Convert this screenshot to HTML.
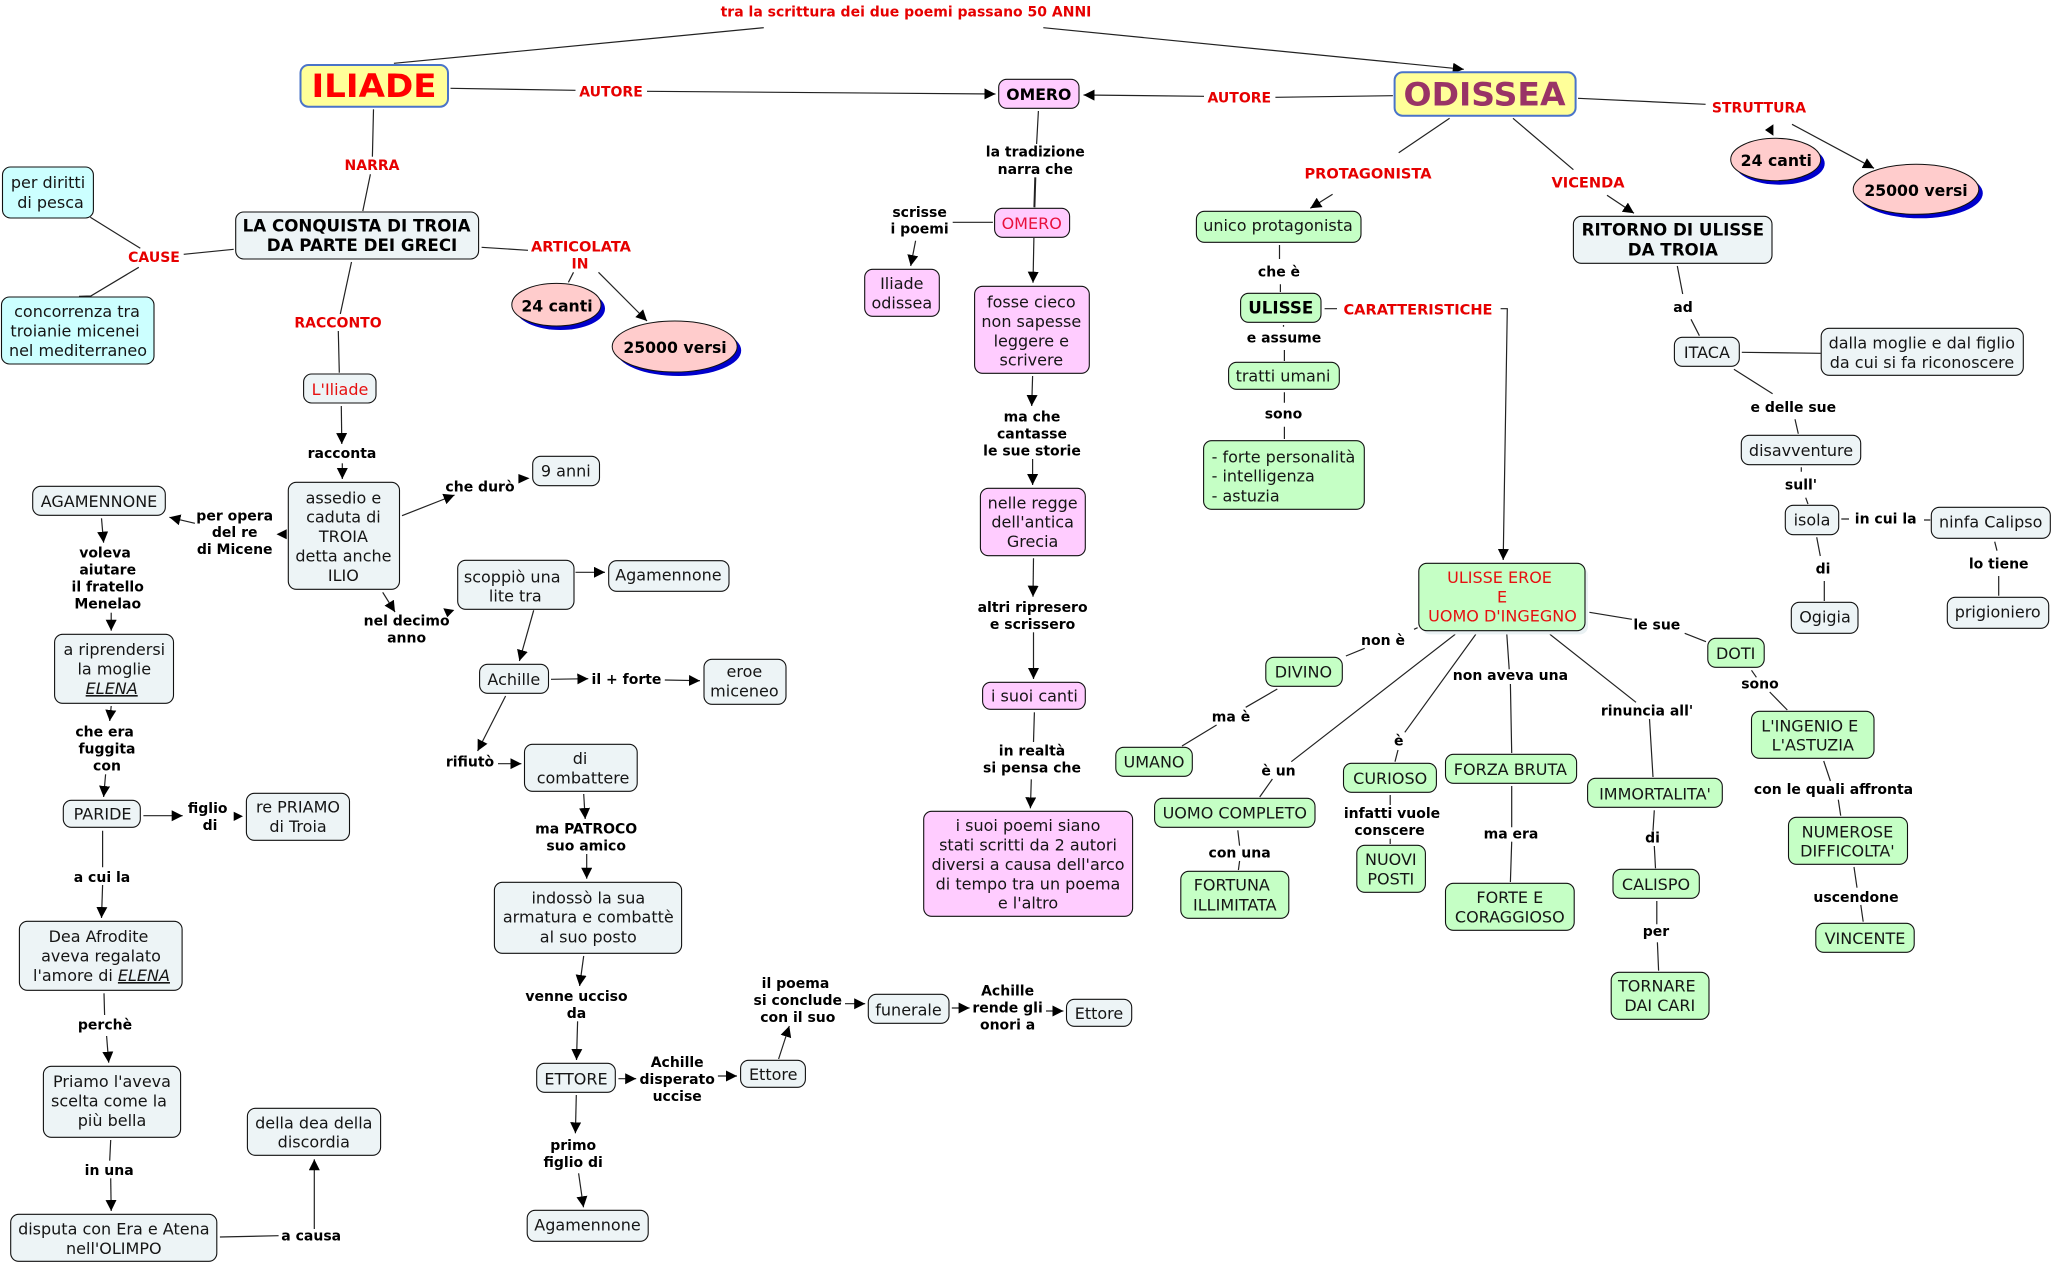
<!DOCTYPE html>
<html lang="it"><head><meta charset="utf-8"><title>Iliade e Odissea</title>
<style>
html,body{margin:0;padding:0;background:#fff}
svg{display:block;font-family:"DejaVu Sans","Liberation Sans",sans-serif}
text{text-anchor:middle;font-size:16px;fill:#151515}
.b{font-weight:700;font-size:14px;fill:#000}
.r{font-weight:700;font-size:14px;fill:#e60000}
.w{font-size:14.6px}
.h{font-weight:700;font-size:16.7px;fill:#000}
.t{fill:#e61010}
.l{text-anchor:start}
rect{stroke:#111;stroke-width:1.1}
.n rect,rect.n{fill:#edf4f6}.p rect{fill:#ffccff}.g rect{fill:#c5ffc5}.c rect{fill:#ccffff}
.e path{fill:none;stroke:#222;stroke-width:1.2}
.i{font-style:italic;text-decoration:underline}
</style></head><body>
<svg width="2052" height="1264" viewBox="0 0 2052 1264" xmlns="http://www.w3.org/2000/svg">
<defs><marker id="a" markerUnits="userSpaceOnUse" markerWidth="12" markerHeight="12" refX="11" refY="5.5" orient="auto"><path d="M0,0L11,5.5L0,11z" fill="#000"/></marker></defs>

<g class="e">
<path d="M763.8,27.7L393.9,63.3M450.5,88.3L575.5,90.3M373.5,109.3L372.4,156.7M370.4,174.3L362.8,211M233.7,249.3L183.7,254.3M140.3,248.3L90.3,217.3M138.8,267.3L90.8,296L79,296.3M481.6,247.3L528,250.3M573.5,272.3L568.4,282.3M351.5,262L340.3,314M338.3,331L339.3,372.7"/>
<path d="M1392.9,95.7L1275.4,97.3M1038.4,111L1036.6,144M992.9,222.3L952.7,222.3M1449.6,118.3L1398.7,152.7M1279.5,245L1279.5,259M1280.4,284.3L1280.4,292M1324.6,308.7L1337,308.7M1283.5,325L1283.5,326.7M1284.4,350L1284.4,361M1284.4,392.3L1284.4,402.7M1284.4,426.7L1284.4,439"/>
<path style="stroke-width:2" d="M1035.3,177.3L1034.4,207.3"/>
<path d="M1578,98.3L1705.6,104.3M1513,118.3L1573.4,169.7M1677.3,266L1682.7,294M1691,319.3L1699.4,335.7M1741.8,352.3L1820.8,353.3M1733.9,369.3L1772.6,393.7M1795,419.3L1798.3,433.7M1801.3,467.3L1801.3,471.7M1805.7,497.7L1808,504M1841.3,519L1849,519M1924,520L1930.3,520M1994.7,541.7L1997,550.7M1998.7,576L1998.7,595.7M1816.7,537.3L1820.3,556M1824.3,581L1824.3,601"/>
<path d="M102.6,830.7L102.6,867.3M104,993.3L104.6,1015M110.7,1140L109.7,1160.7M219.9,1237L278.6,1235.7"/>
<path d="M1034.4,712.3L1033.5,742"/>
<path d="M1417.6,627.7L1414,629.3M1364.7,648.3L1345.9,656M1277.3,689L1245.7,707.3M1216.6,725L1182,746M1455.2,634.3L1291.3,761.7M1272.4,779L1259.7,797M1237.8,830.3L1239.6,845.7M1239.6,861L1238.4,870M1475.8,634.3L1404.8,732.3M1398,750L1395,761.7M1390.2,795L1390.2,805M1390.2,838.7L1390.2,844M1506.8,634.3L1509.2,669.3M1510.4,684L1511.7,753M1511.7,786L1511.7,827.3M1511.7,841.7L1510.4,882M1549.9,634.3L1636,702.3M1649.5,719L1653,777M1654.3,810.3L1653,830.7M1654.3,846L1655.5,868.3M1656.8,901L1656.8,924.3M1657.4,942.3L1658.6,970.7M1589.4,612.3L1631.9,619.3M1684.7,633.3L1706,641.7M1751.5,670.3L1756.4,677.3M1769.7,692L1787.3,710M1823.7,761L1830.4,781M1838.3,799.7L1840.7,815.7M1854,867L1857,887.7M1860.8,905L1863.2,921.7"/>
</g>
<g class="e" marker-end="url(#a)">
<path d="M1043.3,27.7L1463.8,69.3"/><path d="M647,91.3L995.5,94"/><path d="M1204,96.3L1083.5,95"/>
<path d="M598.5,272.3L647,321"/><path d="M341.3,406L341.8,444"/>
<path d="M915.6,240.7L910.7,266"/><path d="M1033.9,238L1033,282.7"/><path d="M1032.6,376L1031.7,406"/>
<path d="M1332.6,194.3L1310.3,208.3"/><path d="M1500.6,308.7L1507.3,308.7L1503.2,560"/>
<path d="M1792,124.3L1874,168.3"/><path d="M1607,195.3L1634,213.3"/>
<path d="M342.3,463.3L342.3,479"/><path d="M402,515.7L454.6,495"/><path d="M194.9,523.3L169.4,517.3"/>
<path d="M101.5,518.3L103.6,542.7"/><path d="M111.2,612.7L111.2,630.7"/><path d="M111.2,706L109.7,721"/>
<path d="M105.6,774.3L103.6,797"/><path d="M143.4,815.7L182.7,815.7"/><path d="M575.5,572.3L605,572.3"/>
<path d="M382.7,592.3L395,612"/><path d="M533.7,610.3L519.4,661"/><path d="M551,679.3L588.3,678.7"/>
<path d="M664.8,680L700,680.7"/><path d="M505.6,696L477.6,751"/><path d="M498,763.7L521.4,763.7"/>
<path d="M583.7,794L585.2,819"/><path d="M586.7,854L586.7,878.7"/><path d="M583.7,956L579.6,986"/>
<path d="M577.6,1021.3L576.5,1060"/><path d="M618.4,1078.7L636.2,1078.7"/><path d="M717.9,1076L737,1076"/>
<path d="M778.6,1059L789.3,1026"/><path d="M845,1003.7L865.2,1003.7"/><path d="M951.8,1008L969.6,1008"/>
<path d="M1046,1011L1063.4,1011"/><path d="M576.3,1095L575.4,1133.3"/><path d="M578.6,1173.3L583.5,1207.3"/>
<path d="M102.6,885L101.5,918"/><path d="M106.6,1036L108.7,1062.7"/><path d="M110.7,1178.3L111.2,1211"/>
<path d="M314.3,1229L314.3,1159.3"/><path d="M1032.6,459L1032.6,485"/><path d="M1033.5,558.3L1033,596.7"/>
<path d="M1033.5,632.3L1033.5,679"/><path d="M1031.3,779.3L1030.4,808.3"/>
</g>
<path d="M1773.4,124.3L1773.4,135.7L1765,130zM286.7,529.3L286.7,539.3L276.5,534.3zM518.4,474L518.4,483.5L529.6,478.3zM233.7,811.7L233.7,821L243,816.3zM443.3,608.3L454.3,610L447.3,617.3z" fill="#000"/>

<!-- main titles -->
<rect x="300.5" y="65" width="147.5" height="41.7" rx="8" fill="#ffff99" style="stroke:#4a74c9;stroke-width:2"/>
<rect x="1394.6" y="72.3" width="181" height="43.4" rx="8" fill="#ffff99" style="stroke:#4a74c9;stroke-width:2"/>
<text x="374" y="97" font-weight="700" textLength="125" lengthAdjust="spacingAndGlyphs" style="font-size:32px;fill:#f00">ILIADE</text>
<text x="1484.5" y="105.6" font-weight="700" textLength="162" lengthAdjust="spacingAndGlyphs" style="font-size:32px;fill:#993366">ODISSEA</text>

<!-- ellipses -->
<ellipse cx="560.4" cy="308.7" rx="44.6" ry="21.3" fill="#0000cc"/><ellipse cx="556.4" cy="304.7" rx="44.6" ry="21.3" fill="#ffcccc" stroke="#111"/>
<ellipse cx="678.7" cy="350.5" rx="62.5" ry="25.5" fill="#0000cc"/><ellipse cx="674.7" cy="346.5" rx="62.5" ry="25.5" fill="#ffcccc" stroke="#111"/>
<ellipse cx="1779.7" cy="163.5" rx="45" ry="21.2" fill="#0000cc"/><ellipse cx="1775.7" cy="159.5" rx="45" ry="21.2" fill="#ffcccc" stroke="#111"/>
<ellipse cx="1920" cy="193.3" rx="62.8" ry="25" fill="#0000cc"/><ellipse cx="1916" cy="189.3" rx="62.8" ry="25" fill="#ffcccc" stroke="#111"/>
<text class="h" style="font-size:15.7px" x="557" y="311.7">24 canti</text><text class="h" style="font-size:15.7px" x="675" y="353">25000 versi</text><text class="h" style="font-size:15.7px" x="1776.3" y="166">24 canti</text><text class="h" style="font-size:15.7px" x="1916" y="196">25000 versi</text>

<!-- cyan -->
<g class="c">
<rect x="2.5" y="167" width="90.9" height="51" rx="8"/><rect x="1.5" y="297" width="152.5" height="67" rx="8"/>
</g>
<text x="48" y="188">per diritti</text><text x="50.5" y="208">di pesca</text>
<text x="77" y="317">concorrenza tra</text><text x="75" y="336.5">troianie micenei</text><text x="78" y="356">nel mediterraneo</text>

<!-- blue-grey nodes -->
<g class="n">
<rect x="235.7" y="212" width="242.9" height="47" rx="8"/>
<rect x="303.6" y="374" width="72.4" height="29" rx="8"/>
<rect x="288.3" y="482.3" width="111.2" height="107" rx="8"/>
<rect x="532.7" y="456.3" width="66.8" height="29.4" rx="8"/>
<rect x="32.7" y="486.3" width="132.6" height="29" rx="8"/>
<rect x="54.6" y="634.3" width="118.9" height="69" rx="8"/>
<rect x="63.3" y="800.3" width="77" height="27" rx="8"/>
<rect x="246.4" y="793.3" width="103.1" height="47" rx="8"/>
<rect x="457.7" y="560.3" width="116.3" height="49" rx="8"/>
<rect x="608.7" y="560.7" width="120.3" height="30.6" rx="8"/>
<rect x="479.6" y="664.3" width="68.9" height="29" rx="8"/>
<rect x="704" y="659.3" width="82" height="45" rx="8"/>
<rect x="524.5" y="744.3" width="112.7" height="47" rx="8"/>
<rect x="494.4" y="882.3" width="187.2" height="71" rx="8"/>
<rect x="536.7" y="1063.3" width="78.6" height="29" rx="8"/>
<rect x="740.6" y="1060.3" width="64.8" height="27" rx="8"/>
<rect x="868.3" y="994.3" width="80.7" height="29" rx="8"/>
<rect x="1066.5" y="999.3" width="65.2" height="27" rx="8"/>
<rect x="527.2" y="1210.3" width="121" height="31" rx="8"/>
<rect x="19.4" y="921.3" width="162.7" height="69" rx="8"/>
<rect x="43.4" y="1066.3" width="137.2" height="71" rx="8"/>
<rect x="10.7" y="1214.3" width="206.1" height="47" rx="8"/>
<rect x="247.4" y="1108.3" width="133.2" height="47" rx="8"/>
<rect x="1573.4" y="216.3" width="198.6" height="47" rx="8"/>
<rect x="1674.4" y="337.3" width="64.9" height="29" rx="8"/>
<rect x="1821.2" y="328.3" width="202.1" height="47" rx="8"/>
<rect x="1741.3" y="435.3" width="119.4" height="29.4" rx="8"/>
<rect x="1785.3" y="505.3" width="53.4" height="29.4" rx="8"/>
<rect x="1931.3" y="507.3" width="119" height="31" rx="8"/>
<rect x="1947.3" y="597.3" width="101.4" height="31" rx="8"/>
<rect x="1791.3" y="602.3" width="66.7" height="31" rx="8"/>
</g>
<text class="h" x="356.6" y="231.7">LA CONQUISTA DI TROIA</text><text class="h" x="362" y="251">DA PARTE DEI GRECI</text>
<text class="t" x="340" y="395">L'Iliade</text>
<text x="343.4" y="503.3">assedio e</text><text x="343.4" y="522.7">caduta di</text><text x="343.4" y="542">TROIA</text><text x="343.4" y="561.7">detta anche</text><text x="343.4" y="581">ILIO</text>
<text x="565.8" y="476.7">9 anni</text><text x="99" y="507">AGAMENNONE</text>
<text x="114.3" y="655">a riprendersi</text><text x="114.3" y="674.3">la moglie</text><text class="i" x="111.7" y="694">ELENA</text>
<text x="102.6" y="819.7">PARIDE</text><text x="298" y="812.3">re PRIAMO</text><text x="298" y="832">di Troia</text>
<text x="512.2" y="582.3">scoppiò una</text><text x="515.3" y="601.7">lite tra</text><text x="668.4" y="580.7">Agamennone</text>
<text x="513.8" y="685">Achille</text><text x="744.4" y="677">eroe</text><text x="744.4" y="696.7">miceneo</text>
<text x="580" y="764">di</text><text x="583" y="783.7">combattere</text>
<text x="588.3" y="903.3">indossò la sua</text><text x="588.3" y="922.7">armatura e combattè</text><text x="588.3" y="942.3">al suo posto</text>
<text x="576" y="1084.3">ETTORE</text><text x="773.2" y="1080">Ettore</text><text x="908.5" y="1015.3">funerale</text><text x="1099" y="1019">Ettore</text><text x="587.5" y="1230.7">Agamennone</text>
<text x="98.5" y="942">Dea Afrodite</text><text x="101" y="961.7">aveva regalato</text><text x="101.5" y="981">l'amore di <tspan class="i">ELENA</tspan></text>
<text x="112" y="1087">Priamo l'aveva</text><text x="109" y="1106.7">scelta come la</text><text x="112" y="1126">più bella</text>
<text x="113.8" y="1234.7">disputa con Era e Atena</text><text x="113.8" y="1254">nell'OLIMPO</text>
<text x="313.8" y="1128.3">della dea della</text><text x="313.8" y="1147.7">discordia</text>
<text class="h" x="1672.8" y="235.7">RITORNO DI ULISSE</text><text class="h" x="1672.8" y="255.3">DA TROIA</text>
<text x="1706.9" y="358">ITACA</text><text x="1921.8" y="348.3">dalla moglie e dal figlio</text><text x="1922" y="368">da cui si fa riconoscere</text>
<text x="1801" y="456">disavventure</text><text x="1812" y="525.7">isola</text><text x="1990.7" y="527.3">ninfa Calipso</text><text x="1997.7" y="617.3">prigioniero</text><text x="1825" y="622.3">Ogigia</text>

<!-- pink -->
<g class="p">
<rect x="998.7" y="79.3" width="80.3" height="29" rx="8"/>
<rect x="994.6" y="208.3" width="75" height="29" rx="8"/>
<rect x="864.7" y="269.3" width="74.6" height="47" rx="8"/>
<rect x="974.6" y="286.3" width="114.7" height="87" rx="8"/>
<rect x="980.4" y="488.3" width="104.9" height="67.4" rx="8"/>
<rect x="982.6" y="682.3" width="102.7" height="27" rx="8"/>
<rect x="923.7" y="811.3" width="208.9" height="105" rx="8"/>
</g>
<text class="h" style="font-size:15.7px" x="1038.8" y="100">OMERO</text>
<text x="1031.7" y="229" style="fill:#e8103c">OMERO</text>
<text x="901.8" y="289">Iliade</text><text x="901.8" y="308.7">odissea</text>
<text x="1031.3" y="307.3">fosse cieco</text><text x="1031.3" y="327">non sapesse</text><text x="1031.3" y="346.3">leggere e</text><text x="1031.3" y="365.7">scrivere</text>
<text x="1032.6" y="508.3">nelle regge</text><text x="1032.6" y="527.7">dell'antica</text><text x="1032.6" y="547">Grecia</text>
<text x="1034.4" y="701.7">i suoi canti</text>
<text x="1028" y="831">i suoi poemi siano</text><text x="1028" y="850.3">stati scritti da 2 autori</text><text x="1028" y="870">diversi a causa dell'arco</text><text x="1028" y="889.3">di tempo tra un poema</text><text x="1028" y="908.7">e l'altro</text>

<!-- green -->
<rect x="1422" y="567" width="166" height="67.4" rx="8" fill="#e9f1f3" style="stroke:none"/>
<g class="g">
<rect x="1196.4" y="211.3" width="164.6" height="31" rx="8"/>
<rect x="1240.6" y="293.3" width="80.4" height="29" rx="8"/>
<rect x="1228.6" y="362.3" width="110.7" height="27" rx="8"/>
<rect x="1203.6" y="440.7" width="160.7" height="68.6" rx="8"/>
<rect x="1418.8" y="563.3" width="166.2" height="67.4" rx="8"/>
<rect x="1265.8" y="657.3" width="76.5" height="29" rx="8"/>
<rect x="1115.8" y="747.3" width="76.5" height="29" rx="8"/>
<rect x="1154.6" y="798.3" width="160.4" height="29" rx="8"/>
<rect x="1180.8" y="871.3" width="108" height="47" rx="8"/>
<rect x="1343.5" y="763.3" width="92.9" height="29" rx="8"/>
<rect x="1356.8" y="845.3" width="68.6" height="47" rx="8"/>
<rect x="1445.5" y="754.3" width="131.1" height="29" rx="8"/>
<rect x="1445.5" y="883.3" width="128.7" height="47" rx="8"/>
<rect x="1587.6" y="778.3" width="134.7" height="29" rx="8"/>
<rect x="1613" y="869.3" width="86.3" height="29" rx="8"/>
<rect x="1611.2" y="972.3" width="97.8" height="47" rx="8"/>
<rect x="1707.8" y="638.3" width="56.4" height="29" rx="8"/>
<rect x="1751.5" y="711.3" width="122.5" height="47" rx="8"/>
<rect x="1788.5" y="817.3" width="119" height="47" rx="8"/>
<rect x="1815.8" y="923.3" width="98.4" height="29" rx="8"/>
</g>
<text x="1278" y="231">unico protagonista</text>
<text class="h" x="1280.8" y="313.7">ULISSE</text>
<text x="1283" y="381.7">tratti umani</text>
<text class="l" x="1211.6" y="462.3">- forte personalità</text><text class="l" x="1211.6" y="481.7">- intelligenza</text><text class="l" x="1211.6" y="501.3">- astuzia</text>
<text class="t" x="1499.5" y="583">ULISSE EROE</text><text class="t" x="1502" y="602.3">E</text><text class="t" x="1502.5" y="621.7">UOMO D'INGEGNO</text>
<text x="1303.4" y="677.3">DIVINO</text><text x="1154" y="767.3">UMANO</text><text x="1234.8" y="818.3">UOMO COMPLETO</text>
<text x="1231.8" y="890.7">FORTUNA</text><text x="1234.8" y="910.3">ILLIMITATA</text>
<text x="1390.2" y="784">CURIOSO</text><text x="1390.8" y="865">NUOVI</text><text x="1390.8" y="884.3">POSTI</text>
<text x="1510.4" y="775">FORZA BRUTA</text><text x="1509.8" y="903">FORTE E</text><text x="1509.8" y="922.3">CORAGGIOSO</text>
<text x="1655" y="799.3">IMMORTALITA'</text><text x="1656" y="890">CALISPO</text><text x="1656.8" y="991.7">TORNARE</text><text x="1659.8" y="1011">DAI CARI</text>
<text x="1735.7" y="659">DOTI</text><text x="1809.8" y="731.3">L'INGENIO E</text><text x="1812.8" y="750.7">L'ASTUZIA</text>
<text x="1847.4" y="837.3">NUMEROSE</text><text x="1847.4" y="856.7">DIFFICOLTA'</text><text x="1865" y="944">VINCENTE</text>

<!-- red labels -->
<text class="r" x="906" y="16.7">tra la scrittura dei due poemi passano 50 ANNI</text>
<text class="r" x="611" y="96.3">AUTORE</text><text class="r" x="1239.3" y="102.3">AUTORE</text>
<text class="r" x="372" y="170">NARRA</text><text class="r" x="154" y="262">CAUSE</text>
<text class="r w" x="581" y="251.7">ARTICOLATA</text><text class="r" x="580" y="268.7">IN</text>
<text class="r" x="338" y="327.7">RACCONTO</text><text class="r w" x="1368" y="178.7">PROTAGONISTA</text>
<text class="r w" x="1418" y="314.7">CARATTERISTICHE</text><text class="r" x="1759" y="112.7">STRUTTURA</text><text class="r w" x="1588" y="187.7">VICENDA</text>

<!-- black labels -->
<text class="b" x="342" y="458">racconta</text>
<text class="b" x="1035.3" y="156.7">la tradizione</text><text class="b" x="1035.3" y="174">narra che</text>
<text class="b" x="919.6" y="217">scrisse</text><text class="b" x="919.6" y="233.7">i poemi</text>
<text class="b" x="1032" y="421.7">ma che</text><text class="b" x="1032" y="438.7">cantasse</text><text class="b" x="1032" y="455.7">le sue storie</text>
<text class="b" x="1279" y="276.7">che è</text><text class="b" x="1284" y="342.3">e assume</text><text class="b" x="1283.5" y="418.3">sono</text>
<text class="b" x="1683" y="312">ad</text><text class="b" x="1793.3" y="412">e delle sue</text><text class="b" x="1801" y="489.7">sull'</text>
<text class="b" x="1885.7" y="523.3">in cui la</text><text class="b" x="1998.7" y="568.3">lo tiene</text><text class="b" x="1823" y="573.7">di</text>
<text class="b" x="480" y="491.7">che durò</text>
<text class="b" x="234.7" y="520.3">per opera</text><text class="b" x="234.7" y="537">del re</text><text class="b" x="234.7" y="554">di Micene</text>
<text class="b" x="105" y="557.7">voleva</text><text class="b" x="107.7" y="574.7">aiutare</text><text class="b" x="107.7" y="591.7">il fratello</text><text class="b" x="107.7" y="608.7">Menelao</text>
<text class="b" x="104.6" y="736.7">che era</text><text class="b" x="107" y="753.7">fuggita</text><text class="b" x="107" y="770.7">con</text>
<text class="b" x="207.7" y="813">figlio</text><text class="b" x="210" y="830">di</text>
<text class="b" x="406.6" y="625.7">nel decimo</text><text class="b" x="406.6" y="642.7">anno</text>
<text class="b" x="626.5" y="684">il + forte</text><text class="b" x="470" y="766.7">rifiutò</text>
<text class="b" x="586.2" y="833.7">ma PATROCO</text><text class="b" x="586.2" y="850.7">suo amico</text>
<text class="b" x="576.5" y="1001">venne ucciso</text><text class="b" x="576.5" y="1018">da</text>
<text class="b" x="677.2" y="1067">Achille</text><text class="b" x="677.2" y="1084">disperato</text><text class="b" x="677.2" y="1101">uccise</text>
<text class="b" x="795.5" y="988">il poema</text><text class="b" x="797.8" y="1005">si conclude</text><text class="b" x="797.8" y="1022">con il suo</text>
<text class="b" x="1007.6" y="995.7">Achille</text><text class="b" x="1007.6" y="1012.7">rende gli</text><text class="b" x="1007.6" y="1029.7">onori a</text>
<text class="b" x="573.2" y="1150">primo</text><text class="b" x="573.2" y="1167">figlio di</text>
<text class="b" x="102" y="882">a cui la</text><text class="b" x="105" y="1029.7">perchè</text><text class="b" x="109.2" y="1175">in una</text><text class="b" x="311.2" y="1240.3">a causa</text>
<text class="b" x="1032.6" y="612">altri ripresero</text><text class="b" x="1032.6" y="629">e scrissero</text>
<text class="b" x="1032" y="755.7">in realtà</text><text class="b" x="1032" y="772.7">si pensa che</text>
<text class="b" x="1383" y="645">non è</text><text class="b" x="1231" y="721.7">ma è</text><text class="b" x="1278.5" y="775.7">è un</text><text class="b" x="1239.6" y="857.3">con una</text>
<text class="b" x="1398.7" y="745.7">è</text><text class="b" x="1392" y="818">infatti vuole</text><text class="b" x="1389.6" y="835">conscere</text>
<text class="b" x="1510.4" y="680">non aveva una</text><text class="b" x="1511" y="838.3">ma era</text>
<text class="b" x="1647" y="715.7">rinuncia all'</text><text class="b" x="1652.5" y="842.7">di</text><text class="b" x="1656" y="936">per</text>
<text class="b" x="1656.8" y="629.3">le sue</text><text class="b" x="1760" y="688.3">sono</text><text class="b" x="1833.5" y="794">con le quali affronta</text><text class="b" x="1856" y="902">uscendone</text>
</svg>
</body></html>
